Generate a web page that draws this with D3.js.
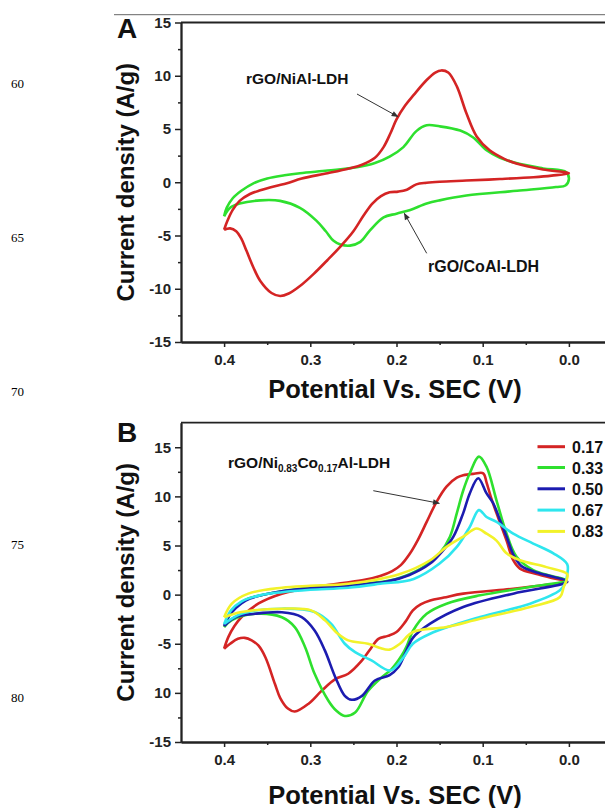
<!DOCTYPE html>
<html><head><meta charset="utf-8">
<script src="https://cdn.jsdelivr.net/npm/d3@7"></script>
<style>
html,body{margin:0;padding:0;background:#fff;}
svg{display:block;}
text{font-family:"Liberation Sans",Arial,sans-serif;}
</style></head>
<body>
<svg id="chart" width="605" height="808"></svg>
<script>
// ---------- DATA ----------
const xTicks = [0.4, 0.3, 0.2, 0.1, 0.0];
const xTickLabels = ["0.4", "0.3", "0.2", "0.1", "0.0"];
const xMinor = [0.35, 0.25, 0.15, 0.05, -0.05];
const yTicks = [-15, -10, -5, 0, 5, 10, 15];
const yTickLabelsA = ["-15", "-10", "-5", "0", "5", "10", "15"];
const yTickLabelsB = ["-15", "10", "-5", "0", "5", "10", "15"];
const yMinorA = [-12.5, -7.5, -2.5, 2.5, 7.5, 12.5];
const yMinorB = [-12.5, -7.5, -2.5, 2.5, 7.5, 12.5];
const lineNumbers = ["60", "65", "70", "75", "80"];

// Panel A: [potential V, current density A/g] around each CV loop
const nialA = [[0.4,-4.46],[0.396,-3.6],[0.39,-2.6],[0.382,-1.75],[0.37,-1.1],[0.358,-0.75],[0.34,-0.35],[0.327,-0.1],[0.31,0.35],[0.28,0.85],[0.255,1.3],[0.24,1.65],[0.225,2.3],[0.215,3.3],[0.207,4.6],[0.2,5.9],[0.19,7.2],[0.18,8.2],[0.165,9.6],[0.155,10.3],[0.148,10.5],[0.14,10.3],[0.13,9.0],[0.119,6.5],[0.107,4.3],[0.092,3.0],[0.075,2.2],[0.061,1.75],[0.03,1.2],[0.0,0.85],
  [0.02,0.62],[0.041,0.47],[0.08,0.3],[0.119,0.16],[0.15,0.05],[0.165,-0.05],[0.177,-0.2],[0.188,-0.7],[0.198,-0.88],[0.208,-0.94],[0.218,-1.3],[0.228,-2.0],[0.238,-3.1],[0.25,-4.6],[0.263,-5.85],[0.28,-7.3],[0.296,-8.6],[0.312,-9.75],[0.325,-10.45],[0.335,-10.68],[0.345,-10.4],[0.358,-9.27],[0.366,-8.0],[0.374,-6.44],[0.38,-5.3],[0.386,-4.6],[0.393,-4.33],[0.4,-4.46]];
const coalA = [[0.4,-3.2],[0.397,-2.4],[0.39,-1.5],[0.38,-0.8],[0.366,-0.1],[0.35,0.35],[0.33,0.65],[0.312,0.85],[0.28,1.1],[0.246,1.4],[0.225,1.8],[0.208,2.4],[0.192,3.3],[0.177,4.8],[0.165,5.35],[0.15,5.25],[0.126,4.85],[0.111,4.2],[0.0955,3.0],[0.08,2.3],[0.061,1.8],[0.03,1.3],[0.003,0.95],
  [0.0,0.3],[0.004,-0.3],[0.015,-0.45],[0.06,-0.8],[0.119,-1.25],[0.15,-1.7],[0.165,-2.0],[0.184,-2.6],[0.2,-2.95],[0.215,-3.3],[0.231,-4.55],[0.242,-5.6],[0.254,-5.95],[0.265,-5.85],[0.273,-5.5],[0.282,-4.6],[0.293,-3.6],[0.312,-2.4],[0.335,-1.75],[0.358,-1.7],[0.382,-2.0],[0.393,-2.4],[0.4,-3.2]];

// Panel B
const b017 = [[0.4,-5.5],[0.395,-4.3],[0.388,-3.2],[0.38,-2.3],[0.36,-0.9],[0.333,0.1],[0.295,0.8],[0.26,1.2],[0.237,1.5],[0.219,1.9],[0.205,2.4],[0.195,3.0],[0.185,4.1],[0.175,5.6],[0.165,7.4],[0.1535,9.45],[0.142,11.0],[0.13,11.9],[0.1226,12.15],[0.11,12.3],[0.0994,12.35],[0.0955,11.4],[0.09,9.8],[0.084,8.3],[0.0723,5.5],[0.0646,3.5],[0.0568,2.65],[0.0375,2.1],[0.02,1.7],[0.002,1.3],
  [0.03,0.95],[0.0646,0.6],[0.1226,0.1],[0.145,-0.3],[0.161,-0.6],[0.172,-1.0],[0.181,-1.6],[0.19,-2.8],[0.2,-3.8],[0.21,-4.2],[0.221,-4.5],[0.23,-5.5],[0.24,-6.7],[0.256,-8.05],[0.271,-8.6],[0.287,-9.8],[0.302,-11.1],[0.318,-11.9],[0.326,-11.6],[0.335,-10.5],[0.341,-9.1],[0.352,-6.4],[0.36,-5.2],[0.368,-4.65],[0.376,-4.4],[0.384,-4.5],[0.393,-5.0],[0.4,-5.5]];
const b033 = [[0.4,-3.3],[0.395,-2.3],[0.391,-1.6],[0.38,-0.8],[0.372,-0.4],[0.333,0.35],[0.3,0.7],[0.256,0.95],[0.21,1.4],[0.19,1.9],[0.169,2.8],[0.15,4.2],[0.138,5.9],[0.13,8.3],[0.1226,10.6],[0.115,12.35],[0.1044,14.05],[0.0955,13.0],[0.084,9.6],[0.0723,6.2],[0.0607,3.85],[0.0414,2.5],[0.02,1.9],[0.003,1.45],
  [0.045,0.78],[0.103,-0.07],[0.142,-0.92],[0.165,-1.95],[0.181,-3.7],[0.188,-5.2],[0.194,-6.2],[0.206,-7.6],[0.217,-8.4],[0.233,-9.8],[0.248,-12.0],[0.26,-12.35],[0.27,-11.8],[0.279,-10.8],[0.295,-8.06],[0.306,-5.35],[0.318,-3.3],[0.333,-2.3],[0.364,-1.95],[0.391,-2.6],[0.4,-3.3]];
const b050 = [[0.4,-3.2],[0.392,-1.9],[0.38,-0.9],[0.37,-0.4],[0.333,0.35],[0.3,0.65],[0.256,0.9],[0.21,1.35],[0.185,2.0],[0.161,3.16],[0.146,4.5],[0.134,5.9],[0.1226,8.3],[0.115,10.3],[0.1052,11.85],[0.0955,10.3],[0.0878,9.3],[0.08,7.6],[0.0723,5.9],[0.064,4.0],[0.055,2.9],[0.035,2.2],[0.002,1.35],
  [0.007,1.1],[0.0646,0.1],[0.1226,-1.26],[0.161,-2.96],[0.181,-4.4],[0.19,-6.0],[0.198,-7.4],[0.208,-8.2],[0.225,-8.74],[0.24,-10.3],[0.252,-10.7],[0.26,-10.3],[0.271,-8.4],[0.283,-5.7],[0.295,-3.64],[0.31,-2.28],[0.333,-1.8],[0.364,-1.95],[0.387,-2.3],[0.4,-3.2]];
const b067 = [[0.4,-3.0],[0.392,-1.6],[0.38,-0.7],[0.36,-0.1],[0.333,0.25],[0.3,0.5],[0.256,0.7],[0.219,1.1],[0.18,1.6],[0.15,3.16],[0.13,4.86],[0.115,6.9],[0.1044,8.6],[0.0955,7.9],[0.084,7.4],[0.0646,6.2],[0.0414,5.2],[0.018,4.2],[0.002,3.1],[0.002,2.0],[0.004,1.2],[0.0104,0.44],
  [0.045,-0.92],[0.103,-2.28],[0.161,-3.98],[0.181,-5.0],[0.192,-6.4],[0.207,-7.72],[0.229,-6.7],[0.248,-5.86],[0.26,-5.0],[0.276,-2.96],[0.295,-1.77],[0.333,-1.43],[0.38,-1.94],[0.4,-3.0]];
const b083 = [[0.4,-2.3],[0.391,-0.92],[0.372,0.1],[0.333,0.7],[0.3,0.9],[0.256,1.1],[0.196,2.1],[0.161,3.5],[0.142,4.86],[0.1226,5.9],[0.107,6.73],[0.0955,6.2],[0.084,5.5],[0.0723,4.2],[0.0568,3.5],[0.026,2.8],[0.002,2.1],[0.003,1.4],[0.006,0.78],[0.0104,-0.24],
  [0.045,-1.26],[0.103,-2.45],[0.142,-3.3],[0.181,-3.8],[0.196,-5.0],[0.208,-5.6],[0.22,-5.4],[0.233,-5.0],[0.256,-4.66],[0.268,-3.98],[0.283,-2.62],[0.299,-1.6],[0.333,-1.43],[0.38,-1.77],[0.4,-2.3]];

const seriesA = [{name:"rGO/CoAl-LDH", data:coalA, color:"#2ee02e"}, {name:"rGO/NiAl-LDH", data:nialA, color:"#d42424"}];
const legendB = ["0.17", "0.33", "0.50", "0.67", "0.83"];
const colorsB = ["#d42424", "#2ee02e", "#1c1cb0", "#2ee6ee", "#f2f22a"];
const dataB = [b017, b033, b050, b067, b083];

// ---------- DRAW ----------
const svg = d3.select("#chart");
const defs = svg.append("defs");
defs.append("marker").attr("id","ah").attr("viewBox","0 0 10 10").attr("refX",9).attr("refY",5)
  .attr("markerWidth",9).attr("markerHeight",7).attr("orient","auto").attr("markerUnits","userSpaceOnUse")
  .append("path").attr("d","M0,1 L10,5 L0,9 Z").attr("fill","#333");

// document decorations
svg.append("line").attr("x1",114).attr("x2",605).attr("y1",14.7).attr("y2",14.7).attr("stroke","#666").attr("stroke-width",1);
const lnY = [88, 241.5, 396, 548.5, 702];
svg.selectAll("text.ln").data(lineNumbers).join("text").attr("class","ln")
  .attr("x",11).attr("y",(d,i)=>lnY[i]).attr("font-size",13)
  .style("font-family","'Liberation Serif','DejaVu Serif',serif").text(d=>d);

const x = d3.scaleLinear().domain([0.45,-0.05]).range([181,612]);

function panel(y, top, bottom, yLabels, yMinor, letter, letterY, xTitleY) {
  const g = svg.append("g");
  g.append("line").attr("x1",181).attr("x2",612).attr("y1",top).attr("y2",top).attr("stroke","#222").attr("stroke-width",1.8);
  g.append("line").attr("x1",612).attr("x2",612).attr("y1",top).attr("y2",bottom).attr("stroke","#222").attr("stroke-width",1.8);
  g.append("g").attr("transform","translate(181,0)")
    .call(d3.axisLeft(y).tickValues(yTicks).tickSize(6).tickPadding(4).tickSizeOuter(0).tickFormat((d,i)=>yLabels[i]));
  g.append("g").attr("transform","translate(181,0)")
    .call(d3.axisLeft(y).tickValues(yMinor).tickSize(3).tickSizeOuter(0).tickFormat(""));
  g.append("g").attr("transform",`translate(0,${bottom})`)
    .call(d3.axisBottom(x).tickValues(xTicks).tickSize(5).tickPadding(7).tickSizeOuter(0).tickFormat((d,i)=>xTickLabels[i]));
  g.append("g").attr("transform",`translate(0,${bottom})`)
    .call(d3.axisBottom(x).tickValues(xMinor).tickSize(3).tickSizeOuter(0).tickFormat(""));
  g.selectAll(".domain").attr("stroke","#222").attr("stroke-width",1.8);
  g.selectAll(".tick line").attr("stroke","#222").attr("stroke-width",1.5);
  g.selectAll(".tick text").attr("font-size",15).attr("font-weight","bold").attr("fill","#222")
    .style("font-family","'Liberation Sans',Arial,sans-serif");
  g.append("text").attr("transform",`translate(134,${(top+bottom)/2}) rotate(-90)`).attr("text-anchor","middle")
    .attr("font-size",24).attr("font-weight","bold").attr("fill","#111").text("Current density (A/g)");
  g.append("text").attr("x",395).attr("y",xTitleY).attr("text-anchor","middle")
    .attr("font-size",25.5).attr("font-weight","bold").attr("fill","#111").text("Potential Vs. SEC (V)");
  g.append("text").attr("x",117).attr("y",letterY).attr("font-size",28).attr("font-weight","bold").attr("fill","#111").text(letter);
  return g;
}

const line = (y) => d3.line().x(d=>x(d[0])).y(d=>y(d[1])).curve(d3.curveCatmullRom.alpha(0.5));

// Panel A
const yA = d3.scaleLinear().domain([-15,15]).range([342,22.5]);
const gA = panel(yA, 22.5, 342, yTickLabelsA, yMinorA, "A", 38.3, 398);
gA.selectAll("path.cv").data(seriesA).join("path").attr("class","cv")
  .attr("d",d=>line(yA)(d.data)).attr("fill","none").attr("stroke",d=>d.color).attr("stroke-width",2.6);
gA.append("text").attr("x",246).attr("y",84).attr("font-size",15.5).attr("font-weight","bold").attr("fill","#111").text("rGO/NiAl-LDH");
gA.append("line").attr("x1",357).attr("y1",94).attr("x2",398).attr("y2",116.7).attr("stroke","#333").attr("stroke-width",1).attr("marker-end","url(#ah)");
gA.append("text").attr("x",428).attr("y",271.7).attr("font-size",16).attr("font-weight","bold").attr("fill","#111").text("rGO/CoAl-LDH");
gA.append("line").attr("x1",426.7).attr("y1",253.3).attr("x2",404.3).attr("y2",213.3).attr("stroke","#333").attr("stroke-width",1).attr("marker-end","url(#ah)");

// Panel B
const yB = d3.scaleLinear().domain([-15,17.5]).range([742,422.7]);
const gB = panel(yB, 422.7, 742, yTickLabelsB, yMinorB, "B", 441.7, 804);
gB.selectAll("path.cv").data(dataB).join("path").attr("class","cv")
  .attr("d",d=>line(yB)(d)).attr("fill","none").attr("stroke",(d,i)=>colorsB[i]).attr("stroke-width",2.6);
const ann = gB.append("text").attr("x",228).attr("y",468.3).attr("font-size",15.5).attr("font-weight","bold").attr("fill","#111");
ann.append("tspan").text("rGO/Ni");
ann.append("tspan").attr("font-size",10).attr("dy",4).text("0.83");
ann.append("tspan").attr("dy",-4).text("Co");
ann.append("tspan").attr("font-size",10).attr("dy",4).text("0.17");
ann.append("tspan").attr("dy",-4).text("Al-LDH");
gB.append("line").attr("x1",373.3).attr("y1",490.7).attr("x2",439.3).attr("y2",503.3).attr("stroke","#333").attr("stroke-width",1).attr("marker-end","url(#ah)");
const legY = [446.7, 467.5, 488.8, 510.1, 531.4];
const leg = gB.selectAll("g.leg").data(legendB).join("g").attr("class","leg");
leg.append("line").attr("x1",537.5).attr("x2",565).attr("y1",(d,i)=>legY[i]).attr("y2",(d,i)=>legY[i])
  .attr("stroke",(d,i)=>colorsB[i]).attr("stroke-width",3);
leg.append("text").attr("x",572).attr("y",(d,i)=>legY[i]+6).attr("font-size",16).attr("font-weight","bold").attr("fill","#111").text(d=>d);
</script>
</body></html>
